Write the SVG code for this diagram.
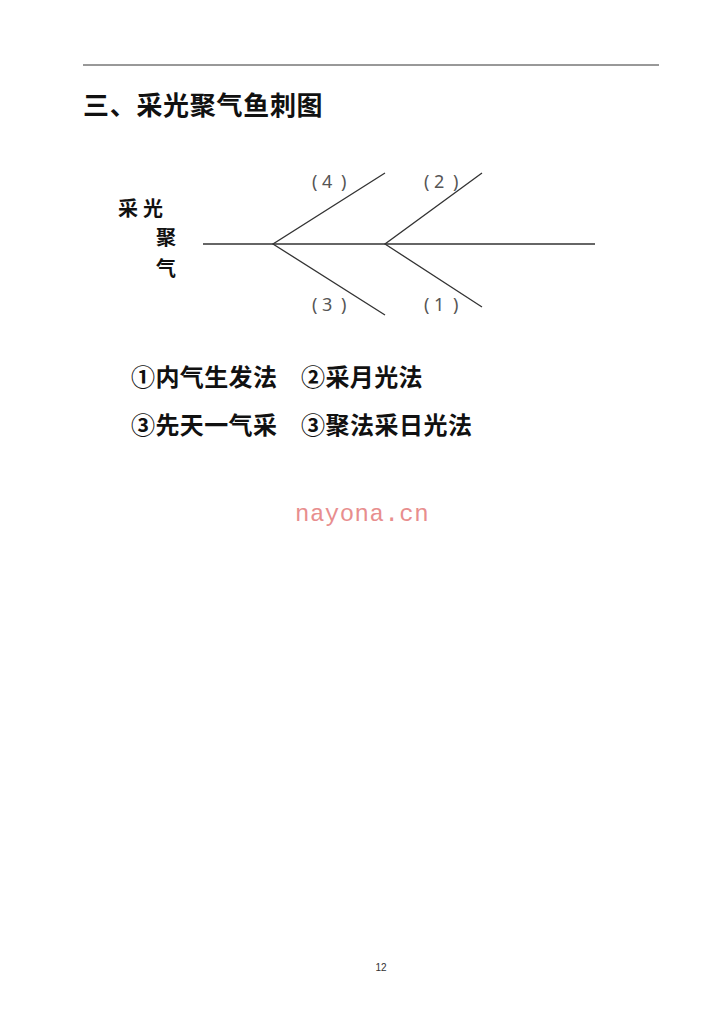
<svg xmlns="http://www.w3.org/2000/svg" width="724" height="1024" viewBox="0 0 724 1024">
<style>
.cjk{font-family:"Noto Sans CJK SC","Noto Sans CJK JP",sans-serif;fill:#111;}
.lbl{font-family:"Noto Sans",sans-serif;font-size:18px;fill:#555;}
.ln{stroke:#333;stroke-width:1.3;fill:none;}
</style>
<rect width="724" height="1024" fill="#fff"/>
<line x1="83" y1="65" x2="659" y2="65" stroke="#333" stroke-width="1"/>
<text id="title" class="cjk" x="83" y="115" font-size="26" font-weight="bold" letter-spacing="0.7">三、采光聚气鱼刺图</text>
<g id="head">
<text class="cjk" x="118" y="216" font-size="20" font-weight="bold" letter-spacing="5">采光</text>
<text class="cjk" x="156" y="245" font-size="20" font-weight="bold">聚</text>
<text class="cjk" x="156" y="276" font-size="20" font-weight="bold">气</text>
</g>
<g id="connectors">
<line class="ln" x1="203" y1="244" x2="595" y2="244"/>
<polyline class="ln" points="385,173 273,244 385,315"/>
<polyline class="ln" points="482,173 385,244 482,307"/>
</g>
<g id="b4"><text class="lbl" x="312 322 341" y="188">(4)</text></g>
<g id="b2"><text class="lbl" x="424 434 453" y="188">(2)</text></g>
<g id="b3"><text class="lbl" x="312 322 341" y="311">(3)</text></g>
<g id="b1"><text class="lbl" x="424 434 453" y="311">(1)</text></g>
<g id="legend">
<text class="cjk" x="131" y="386" font-size="24" font-weight="bold" letter-spacing="0.4">①内气生发法</text>
<text class="cjk" x="301" y="386" font-size="24" font-weight="bold" letter-spacing="0.4">②采月光法</text>
<text class="cjk" x="131" y="434" font-size="24" font-weight="bold" letter-spacing="0.4">③先天一气采</text>
<text class="cjk" x="301" y="434" font-size="24" font-weight="bold" letter-spacing="0.5">③聚法采日光法</text>
</g>
<text x="295" y="521" font-family="Liberation Mono,monospace" font-size="24" fill="#e88e8e" letter-spacing="0.5">nayona.cn</text>
<text x="381" y="971" font-family="Liberation Sans,sans-serif" font-size="10" fill="#333" text-anchor="middle">12</text>
</svg>
